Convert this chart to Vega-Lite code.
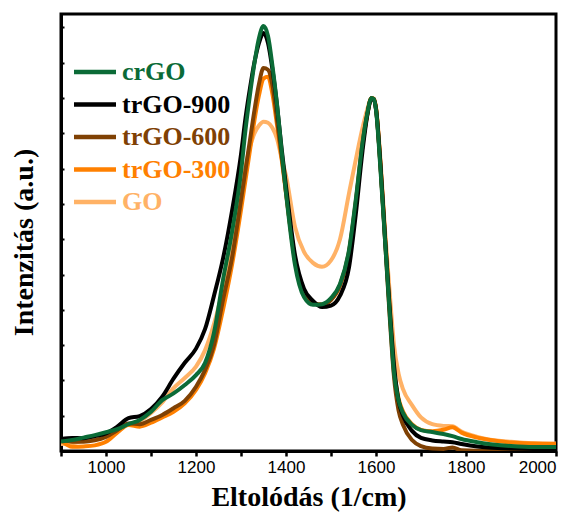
{
  "$schema": "https://vega.github.io/schema/vega-lite/v6.json",
  "width": 495,
  "height": 437,
  "autosize": "none",
  "padding": {"left": 61, "top": 14, "right": 19, "bottom": 69},
  "background": "white",
  "config": {
    "view": {"stroke": "black", "strokeWidth": 3},
    "axis": {"grid": false, "domainColor": "black", "domainWidth": 3, "tickColor": "black", "titleColor": "black", "labelColor": "black"}
  },
  "data": {"values": [
    {"sample":"GO","wn":900,"I":0.2},{"sample":"GO","wn":925,"I":0.22},{"sample":"GO","wn":950,"I":0.3},{"sample":"GO","wn":975,"I":0.4},{"sample":"GO","wn":1000,"I":0.5},{"sample":"GO","wn":1025,"I":0.6},{"sample":"GO","wn":1050,"I":0.76},{"sample":"GO","wn":1075,"I":0.85},{"sample":"GO","wn":1100,"I":1.08},{"sample":"GO","wn":1125,"I":1.38},{"sample":"GO","wn":1150,"I":1.78},{"sample":"GO","wn":1175,"I":2.07},{"sample":"GO","wn":1200,"I":2.39},{"sample":"GO","wn":1220,"I":2.85},{"sample":"GO","wn":1240,"I":3.6},{"sample":"GO","wn":1260,"I":4.6},{"sample":"GO","wn":1280,"I":5.8},{"sample":"GO","wn":1300,"I":7.39},{"sample":"GO","wn":1310,"I":8.05},{"sample":"GO","wn":1320,"I":8.62},{"sample":"GO","wn":1330,"I":9.0},{"sample":"GO","wn":1340,"I":9.22},{"sample":"GO","wn":1350,"I":9.33},{"sample":"GO","wn":1360,"I":9.3},{"sample":"GO","wn":1370,"I":9.15},{"sample":"GO","wn":1380,"I":8.85},{"sample":"GO","wn":1390,"I":8.3},{"sample":"GO","wn":1400,"I":7.8},{"sample":"GO","wn":1420,"I":6.35},{"sample":"GO","wn":1440,"I":5.64},{"sample":"GO","wn":1460,"I":5.33},{"sample":"GO","wn":1480,"I":5.22},{"sample":"GO","wn":1500,"I":5.4},{"sample":"GO","wn":1520,"I":6.0},{"sample":"GO","wn":1540,"I":7.3},{"sample":"GO","wn":1555,"I":8.25},{"sample":"GO","wn":1570,"I":9.15},{"sample":"GO","wn":1580,"I":9.65},{"sample":"GO","wn":1590,"I":10.0},{"sample":"GO","wn":1595,"I":9.97},{"sample":"GO","wn":1600,"I":9.72},{"sample":"GO","wn":1610,"I":8.24},{"sample":"GO","wn":1620,"I":6.26},{"sample":"GO","wn":1630,"I":4.56},{"sample":"GO","wn":1640,"I":3.0},{"sample":"GO","wn":1650,"I":2.2},{"sample":"GO","wn":1660,"I":1.75},{"sample":"GO","wn":1680,"I":1.3},{"sample":"GO","wn":1700,"I":0.95},{"sample":"GO","wn":1725,"I":0.76},{"sample":"GO","wn":1750,"I":0.71},{"sample":"GO","wn":1770,"I":0.7},{"sample":"GO","wn":1790,"I":0.55},{"sample":"GO","wn":1825,"I":0.4},{"sample":"GO","wn":1850,"I":0.33},{"sample":"GO","wn":1900,"I":0.26},{"sample":"GO","wn":1950,"I":0.22},{"sample":"GO","wn":2000,"I":0.21},

    {"sample":"trGO-300","wn":900,"I":0.3},{"sample":"trGO-300","wn":925,"I":0.12},{"sample":"trGO-300","wn":950,"I":0.13},{"sample":"trGO-300","wn":975,"I":0.16},{"sample":"trGO-300","wn":1000,"I":0.26},{"sample":"trGO-300","wn":1025,"I":0.52},{"sample":"trGO-300","wn":1050,"I":0.74},{"sample":"trGO-300","wn":1075,"I":0.69},{"sample":"trGO-300","wn":1100,"I":0.8},{"sample":"trGO-300","wn":1125,"I":0.95},{"sample":"trGO-300","wn":1150,"I":1.11},{"sample":"trGO-300","wn":1175,"I":1.35},{"sample":"trGO-300","wn":1200,"I":1.73},{"sample":"trGO-300","wn":1220,"I":2.2},{"sample":"trGO-300","wn":1240,"I":2.9},{"sample":"trGO-300","wn":1260,"I":4.0},{"sample":"trGO-300","wn":1280,"I":5.27},{"sample":"trGO-300","wn":1300,"I":6.83},{"sample":"trGO-300","wn":1310,"I":7.68},{"sample":"trGO-300","wn":1320,"I":8.53},{"sample":"trGO-300","wn":1330,"I":9.38},{"sample":"trGO-300","wn":1340,"I":10.08},{"sample":"trGO-300","wn":1350,"I":10.55},{"sample":"trGO-300","wn":1360,"I":10.6},{"sample":"trGO-300","wn":1370,"I":10.1},{"sample":"trGO-300","wn":1380,"I":9.24},{"sample":"trGO-300","wn":1390,"I":8.3},{"sample":"trGO-300","wn":1400,"I":7.31},{"sample":"trGO-300","wn":1420,"I":5.45},{"sample":"trGO-300","wn":1440,"I":4.5},{"sample":"trGO-300","wn":1460,"I":4.2},{"sample":"trGO-300","wn":1480,"I":4.15},{"sample":"trGO-300","wn":1500,"I":4.28},{"sample":"trGO-300","wn":1520,"I":4.68},{"sample":"trGO-300","wn":1540,"I":5.6},{"sample":"trGO-300","wn":1555,"I":7.0},{"sample":"trGO-300","wn":1570,"I":8.65},{"sample":"trGO-300","wn":1580,"I":9.48},{"sample":"trGO-300","wn":1590,"I":10.0},{"sample":"trGO-300","wn":1595,"I":9.98},{"sample":"trGO-300","wn":1600,"I":9.72},{"sample":"trGO-300","wn":1610,"I":8.1},{"sample":"trGO-300","wn":1620,"I":6.1},{"sample":"trGO-300","wn":1630,"I":4.1},{"sample":"trGO-300","wn":1640,"I":2.3},{"sample":"trGO-300","wn":1650,"I":1.5},{"sample":"trGO-300","wn":1660,"I":1.12},{"sample":"trGO-300","wn":1680,"I":0.76},{"sample":"trGO-300","wn":1700,"I":0.6},{"sample":"trGO-300","wn":1725,"I":0.56},{"sample":"trGO-300","wn":1750,"I":0.6},{"sample":"trGO-300","wn":1770,"I":0.67},{"sample":"trGO-300","wn":1790,"I":0.52},{"sample":"trGO-300","wn":1825,"I":0.38},{"sample":"trGO-300","wn":1850,"I":0.32},{"sample":"trGO-300","wn":1900,"I":0.24},{"sample":"trGO-300","wn":1950,"I":0.21},{"sample":"trGO-300","wn":2000,"I":0.2},

    {"sample":"trGO-600","wn":900,"I":0.35},{"sample":"trGO-600","wn":925,"I":0.26},{"sample":"trGO-600","wn":950,"I":0.26},{"sample":"trGO-600","wn":975,"I":0.3},{"sample":"trGO-600","wn":1000,"I":0.4},{"sample":"trGO-600","wn":1025,"I":0.59},{"sample":"trGO-600","wn":1050,"I":0.78},{"sample":"trGO-600","wn":1075,"I":0.76},{"sample":"trGO-600","wn":1100,"I":0.88},{"sample":"trGO-600","wn":1125,"I":1.02},{"sample":"trGO-600","wn":1150,"I":1.21},{"sample":"trGO-600","wn":1175,"I":1.42},{"sample":"trGO-600","wn":1200,"I":1.82},{"sample":"trGO-600","wn":1220,"I":2.29},{"sample":"trGO-600","wn":1240,"I":3.0},{"sample":"trGO-600","wn":1260,"I":4.28},{"sample":"trGO-600","wn":1280,"I":5.47},{"sample":"trGO-600","wn":1300,"I":7.11},{"sample":"trGO-600","wn":1310,"I":7.96},{"sample":"trGO-600","wn":1320,"I":8.81},{"sample":"trGO-600","wn":1330,"I":9.66},{"sample":"trGO-600","wn":1340,"I":10.4},{"sample":"trGO-600","wn":1350,"I":10.85},{"sample":"trGO-600","wn":1360,"I":10.8},{"sample":"trGO-600","wn":1370,"I":10.35},{"sample":"trGO-600","wn":1380,"I":9.4},{"sample":"trGO-600","wn":1390,"I":8.39},{"sample":"trGO-600","wn":1400,"I":7.34},{"sample":"trGO-600","wn":1420,"I":5.41},{"sample":"trGO-600","wn":1440,"I":4.48},{"sample":"trGO-600","wn":1460,"I":4.19},{"sample":"trGO-600","wn":1480,"I":4.14},{"sample":"trGO-600","wn":1500,"I":4.28},{"sample":"trGO-600","wn":1520,"I":4.7},{"sample":"trGO-600","wn":1540,"I":5.65},{"sample":"trGO-600","wn":1555,"I":7.05},{"sample":"trGO-600","wn":1570,"I":8.7},{"sample":"trGO-600","wn":1580,"I":9.5},{"sample":"trGO-600","wn":1590,"I":10.0},{"sample":"trGO-600","wn":1595,"I":9.97},{"sample":"trGO-600","wn":1600,"I":9.7},{"sample":"trGO-600","wn":1610,"I":8.05},{"sample":"trGO-600","wn":1620,"I":6.0},{"sample":"trGO-600","wn":1630,"I":3.9},{"sample":"trGO-600","wn":1640,"I":2.1},{"sample":"trGO-600","wn":1650,"I":1.16},{"sample":"trGO-600","wn":1660,"I":0.74},{"sample":"trGO-600","wn":1680,"I":0.31},{"sample":"trGO-600","wn":1700,"I":0.14},{"sample":"trGO-600","wn":1725,"I":0.07},{"sample":"trGO-600","wn":1750,"I":0.06},{"sample":"trGO-600","wn":1770,"I":0.1},{"sample":"trGO-600","wn":1790,"I":0.02},{"sample":"trGO-600","wn":1825,"I":0.01},{"sample":"trGO-600","wn":1850,"I":0.01},{"sample":"trGO-600","wn":1900,"I":0.01},{"sample":"trGO-600","wn":1950,"I":0.01},{"sample":"trGO-600","wn":2000,"I":0.01},

    {"sample":"trGO-900","wn":900,"I":0.34},{"sample":"trGO-900","wn":925,"I":0.37},{"sample":"trGO-900","wn":950,"I":0.36},{"sample":"trGO-900","wn":975,"I":0.42},{"sample":"trGO-900","wn":1000,"I":0.5},{"sample":"trGO-900","wn":1025,"I":0.69},{"sample":"trGO-900","wn":1050,"I":0.93},{"sample":"trGO-900","wn":1075,"I":0.99},{"sample":"trGO-900","wn":1100,"I":1.19},{"sample":"trGO-900","wn":1125,"I":1.54},{"sample":"trGO-900","wn":1150,"I":2.05},{"sample":"trGO-900","wn":1175,"I":2.5},{"sample":"trGO-900","wn":1200,"I":2.9},{"sample":"trGO-900","wn":1220,"I":3.45},{"sample":"trGO-900","wn":1240,"I":4.4},{"sample":"trGO-900","wn":1260,"I":5.45},{"sample":"trGO-900","wn":1280,"I":6.8},{"sample":"trGO-900","wn":1300,"I":8.4},{"sample":"trGO-900","wn":1310,"I":9.43},{"sample":"trGO-900","wn":1320,"I":10.28},{"sample":"trGO-900","wn":1330,"I":11.02},{"sample":"trGO-900","wn":1340,"I":11.56},{"sample":"trGO-900","wn":1350,"I":11.84},{"sample":"trGO-900","wn":1360,"I":11.56},{"sample":"trGO-900","wn":1370,"I":10.8},{"sample":"trGO-900","wn":1380,"I":9.8},{"sample":"trGO-900","wn":1390,"I":8.6},{"sample":"trGO-900","wn":1400,"I":7.5},{"sample":"trGO-900","wn":1420,"I":5.55},{"sample":"trGO-900","wn":1440,"I":4.6},{"sample":"trGO-900","wn":1460,"I":4.25},{"sample":"trGO-900","wn":1480,"I":4.08},{"sample":"trGO-900","wn":1500,"I":4.12},{"sample":"trGO-900","wn":1520,"I":4.4},{"sample":"trGO-900","wn":1540,"I":5.2},{"sample":"trGO-900","wn":1555,"I":6.7},{"sample":"trGO-900","wn":1570,"I":8.5},{"sample":"trGO-900","wn":1580,"I":9.46},{"sample":"trGO-900","wn":1590,"I":9.97},{"sample":"trGO-900","wn":1595,"I":9.95},{"sample":"trGO-900","wn":1600,"I":9.68},{"sample":"trGO-900","wn":1610,"I":8.1},{"sample":"trGO-900","wn":1620,"I":6.06},{"sample":"trGO-900","wn":1630,"I":4.14},{"sample":"trGO-900","wn":1640,"I":2.44},{"sample":"trGO-900","wn":1650,"I":1.44},{"sample":"trGO-900","wn":1660,"I":1.0},{"sample":"trGO-900","wn":1680,"I":0.57},{"sample":"trGO-900","wn":1700,"I":0.37},{"sample":"trGO-900","wn":1725,"I":0.3},{"sample":"trGO-900","wn":1750,"I":0.27},{"sample":"trGO-900","wn":1770,"I":0.25},{"sample":"trGO-900","wn":1790,"I":0.2},{"sample":"trGO-900","wn":1825,"I":0.13},{"sample":"trGO-900","wn":1850,"I":0.1},{"sample":"trGO-900","wn":1900,"I":0.07},{"sample":"trGO-900","wn":1950,"I":0.06},{"sample":"trGO-900","wn":2000,"I":0.06},

    {"sample":"crGO","wn":900,"I":0.27},{"sample":"crGO","wn":925,"I":0.31},{"sample":"crGO","wn":950,"I":0.38},{"sample":"crGO","wn":975,"I":0.45},{"sample":"crGO","wn":1000,"I":0.53},{"sample":"crGO","wn":1025,"I":0.62},{"sample":"crGO","wn":1050,"I":0.76},{"sample":"crGO","wn":1075,"I":0.88},{"sample":"crGO","wn":1100,"I":1.11},{"sample":"crGO","wn":1125,"I":1.44},{"sample":"crGO","wn":1150,"I":1.63},{"sample":"crGO","wn":1175,"I":1.87},{"sample":"crGO","wn":1200,"I":2.15},{"sample":"crGO","wn":1220,"I":2.49},{"sample":"crGO","wn":1240,"I":3.35},{"sample":"crGO","wn":1260,"I":4.85},{"sample":"crGO","wn":1280,"I":6.2},{"sample":"crGO","wn":1300,"I":7.9},{"sample":"crGO","wn":1310,"I":9.1},{"sample":"crGO","wn":1320,"I":10.1},{"sample":"crGO","wn":1330,"I":11.0},{"sample":"crGO","wn":1340,"I":11.7},{"sample":"crGO","wn":1350,"I":12.04},{"sample":"crGO","wn":1360,"I":11.76},{"sample":"crGO","wn":1370,"I":10.9},{"sample":"crGO","wn":1380,"I":9.83},{"sample":"crGO","wn":1390,"I":8.53},{"sample":"crGO","wn":1400,"I":7.31},{"sample":"crGO","wn":1420,"I":5.27},{"sample":"crGO","wn":1440,"I":4.36},{"sample":"crGO","wn":1460,"I":4.14},{"sample":"crGO","wn":1480,"I":4.16},{"sample":"crGO","wn":1500,"I":4.33},{"sample":"crGO","wn":1520,"I":4.73},{"sample":"crGO","wn":1540,"I":5.69},{"sample":"crGO","wn":1555,"I":7.11},{"sample":"crGO","wn":1570,"I":8.73},{"sample":"crGO","wn":1580,"I":9.52},{"sample":"crGO","wn":1590,"I":10.0},{"sample":"crGO","wn":1595,"I":9.97},{"sample":"crGO","wn":1600,"I":9.66},{"sample":"crGO","wn":1610,"I":7.96},{"sample":"crGO","wn":1620,"I":5.98},{"sample":"crGO","wn":1630,"I":3.99},{"sample":"crGO","wn":1640,"I":2.21},{"sample":"crGO","wn":1650,"I":1.44},{"sample":"crGO","wn":1660,"I":1.08},{"sample":"crGO","wn":1680,"I":0.74},{"sample":"crGO","wn":1700,"I":0.59},{"sample":"crGO","wn":1725,"I":0.54},{"sample":"crGO","wn":1750,"I":0.48},{"sample":"crGO","wn":1770,"I":0.42},{"sample":"crGO","wn":1790,"I":0.34},{"sample":"crGO","wn":1825,"I":0.25},{"sample":"crGO","wn":1850,"I":0.2},{"sample":"crGO","wn":1900,"I":0.14},{"sample":"crGO","wn":1950,"I":0.11},{"sample":"crGO","wn":2000,"I":0.11}
  ]},
  "mark": {"type": "line", "strokeWidth": 4, "interpolate": "monotone", "clip": true},
  "encoding": {
    "x": {
      "field": "wn", "type": "quantitative",
      "scale": {"domain": [900, 2000], "nice": false, "zero": false},
      "axis": {
        "title": "Eltolódás (1/cm)",
        "values": [900, 1000, 1100, 1200, 1300, 1400, 1500, 1600, 1700, 1800, 1900, 2000],
        "format": "d",
        "labelExpr": "datum.value % 200 == 0 ? datum.label : ''",
        "labelFont": "Liberation Sans", "labelFontSize": 17, "labelPadding": 3,
        "tickSize": 5, "tickWidth": 2.5,
        "titleFont": "Liberation Serif, Times New Roman, DejaVu Serif, serif", "titleFontWeight": "bold", "titleFontSize": 28, "titlePadding": 8
      }
    },
    "y": {
      "field": "I", "type": "quantitative",
      "scale": {"domain": [0, 12.38], "nice": false},
      "axis": {
        "title": "Intenzitás (a.u.)",
        "values": [1, 2, 3, 4, 5, 6, 7, 8, 9, 10, 11, 12],
        "labels": false,
        "tickSize": -3, "tickWidth": 2,
        "titleFont": "Liberation Serif, Times New Roman, DejaVu Serif, serif", "titleFontWeight": "bold", "titleFontSize": 28, "titlePadding": 22, "titleY": 228
      }
    },
    "color": {
      "field": "sample", "type": "nominal",
      "scale": {"domain": ["crGO", "trGO-900", "trGO-600", "trGO-300", "GO"], "range": ["#0b6b37", "#000000", "#7f4104", "#ff8000", "#ffb266"]},
      "legend": {
        "orient": "none", "legendX": 21, "legendY": 45, "title": null, "padding": 0,
        "symbolType": "M-2,0H2", "symbolSize": 441, "symbolStrokeWidth": 4.5,
        "labelFont": "Liberation Serif, Times New Roman, DejaVu Serif, serif", "labelFontWeight": "bold", "labelFontSize": 26,
        "labelOffset": 14, "rowPadding": 6.5,
        "labelColor": {"expr": "scale('color', datum.value)"}
      }
    }
  }
}
